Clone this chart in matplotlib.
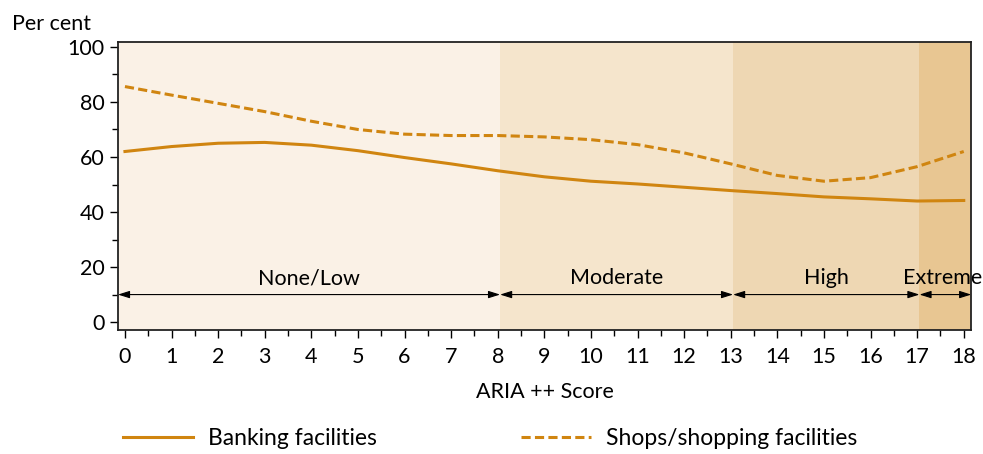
import numpy as np
import matplotlib.pyplot as plt
from matplotlib.ticker import MultipleLocator

plt.rcParams['font.family'] = ['Lato', 'DejaVu Sans']

# ARIA++ score and the share of localities with each service (per cent)
score = np.arange(0, 19)
banking = [62, 63.8, 65, 65.3, 64.3, 62.3, 59.8, 57.5, 55, 52.8, 51.2,
           50.2, 49, 47.8, 46.7, 45.5, 44.8, 44, 44.2]
shops = [85.6, 82.5, 79.5, 76.5, 73, 70, 68.3, 67.8, 67.8, 67.3, 66.3,
         64.5, 61.5, 57.5, 53.3, 51.2, 52.5, 56.5, 62]

# remoteness bands: name, start, end
band_names = ['None/Low', 'Moderate', 'High', 'Extreme']
band_edges = [-0.15, 8.05, 13.05, 17.05, 18.16]
band_colors = ['#faf1e6', '#f5e5cc', '#eed7b3', '#e8c692']

line_color = '#d08510'
fs = 15.5

fig = plt.figure(figsize=(9.83, 4.54), dpi=100)
ax = fig.add_axes([0.12, 0.273, 0.868, 0.6345])

for i, name in enumerate(band_names):
    x0, x1 = band_edges[i], band_edges[i + 1]
    ax.axvspan(x0, x1, color=band_colors[i], lw=0, zorder=0)
    ax.annotate('', xy=(x0, 10), xytext=(x1, 10),
                arrowprops=dict(arrowstyle='<|-|>,head_length=0.7,head_width=0.22',
                                color='black', lw=0.8, shrinkA=0, shrinkB=0))
    cx = (x0 + x1) / 2
    if name == 'Extreme':
        cx = 17.55
    ax.text(cx, 16, name, ha='center', va='center', fontsize=fs)

ax.plot(score, banking, color=line_color, lw=2.2, label='Banking facilities', zorder=3)
ax.plot(score, shops, color=line_color, lw=2.2, ls=(0, (3, 1.4)),
        label='Shops/shopping facilities', zorder=3)

ax.set_xlim(band_edges[0], band_edges[-1])
ax.set_ylim(-2.9, 101.8)
ax.set_xticks(score)
ax.set_yticks(np.arange(0, 101, 20))
ax.xaxis.set_minor_locator(MultipleLocator(0.5))
ax.yaxis.set_minor_locator(MultipleLocator(10))
ax.tick_params(which='both', direction='out', labelsize=fs, color='black')
ax.tick_params(which='major', length=6, width=1)
ax.tick_params(which='minor', length=4, width=1)
ax.tick_params(axis='x', pad=6)
for s in ax.spines.values():
    s.set_linewidth(1.3)
    s.set_color('#222222')

ax.set_xlabel('ARIA ++ Score', fontsize=fs, labelpad=11)
fig.text(0.012, 0.948, 'Per cent', fontsize=fs, va='center', ha='left')

fig.legend(loc='center left', bbox_to_anchor=(0.104, 0.035), ncol=2,
           frameon=False, fontsize=16.5, handlelength=3.05, handletextpad=0.65,
           columnspacing=6.3)

fig.savefig('out.png', dpi=100)
